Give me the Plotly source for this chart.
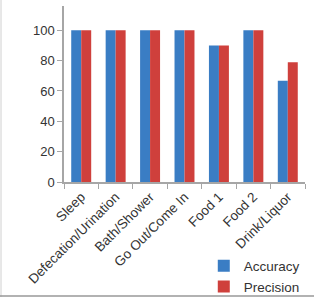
import plotly.graph_objects as go

categories = ["Sleep", "Defecation/Urination", "Bath/Shower", "Go Out/Come In", "Food 1", "Food 2", "Drink/Liquor"]
accuracy = [100, 100, 100, 100, 90, 100, 66.7]
precision = [100, 100, 100, 100, 90, 100, 79]
y_ticks = [0, 20, 40, 60, 80, 100]

fig = go.Figure()
fig.add_trace(go.Bar(x=categories, y=accuracy, name="Accuracy", marker=dict(color="#3A7DC4", line=dict(width=0))))
fig.add_trace(go.Bar(x=categories, y=precision, name="Precision", marker=dict(color="#CF403C", line=dict(width=0))))

W, H = 241, 176
fig.update_layout(
    width=314, height=298,
    margin=dict(l=64, r=9, t=6, b=116, autoexpand=False),
    paper_bgcolor="white", plot_bgcolor="white",
    font=dict(family="Liberation Sans, Arial, sans-serif", color="#333333", size=13),
    barmode="group", bargap=0.42, bargroupgap=0,
    showlegend=True,
    legend=dict(x=0.58, y=-0.685, xanchor="left", yanchor="bottom", orientation="v",
                font=dict(size=13.5), bgcolor="rgba(0,0,0,0)", itemwidth=30, tracegroupgap=0),
    xaxis=dict(showline=True, linecolor="#A6A6A6", linewidth=1.5, ticks="outside", tickson="boundaries",
               tickcolor="#A6A6A6", ticklen=5, tickangle=-45, tickfont=dict(size=13.5), showgrid=False,
               automargin=False),
    yaxis=dict(range=[0, 116], tickvals=y_ticks, showline=True, linecolor="#A6A6A6", linewidth=1.5,
               ticks="outside", tickcolor="#A6A6A6", ticklen=5, tickfont=dict(size=13), showgrid=False,
               zeroline=False, automargin=False),
)
# image frame: left and bottom edges
fig.add_shape(type="line", xref="paper", yref="paper", x0=-63/W, x1=-63/W, y0=-115/H, y1=1 + 6/H,
              line=dict(color="#D0D0D0", width=1))
fig.add_shape(type="line", xref="paper", yref="paper", x0=-64/W, x1=1 + 9/W, y0=-114/H, y1=-114/H,
              line=dict(color="#999999", width=1.5))
fig.write_html("out.html")
